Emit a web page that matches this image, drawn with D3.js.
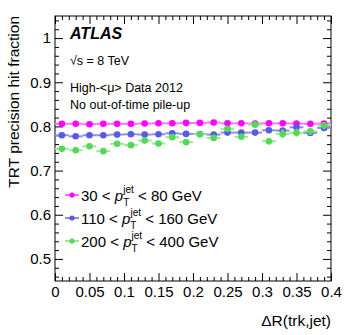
<!DOCTYPE html>
<html lang="en">
<head>
<meta charset="UTF-8">
<title>TRT precision hit fraction</title>
<script src="https://cdn.jsdelivr.net/npm/d3@7"></script>
<style>
    body { margin: 0; background: #fff; }
    svg text { font-family: "Liberation Sans", Arial, Helvetica, sans-serif; fill: #000; }
    .tick text { font-size: 15px; }
    .tick line { stroke: #000; }
</style>
</head>
<body>
<svg width="349" height="335"></svg>
<script>
    // bin centres in dR(trk,jet)
    var dR = [0.01, 0.03, 0.05, 0.07, 0.09, 0.11, 0.13, 0.15, 0.17, 0.19,
              0.21, 0.23, 0.25, 0.27, 0.29, 0.31, 0.33, 0.35, 0.37, 0.39];
    var binHalf = 0.01;

    var lowPt = [0.806, 0.806, 0.805, 0.806, 0.806, 0.806, 0.8065, 0.807, 0.807, 0.808,
                 0.808, 0.8088, 0.807, 0.807, 0.8065, 0.807, 0.807, 0.8065, 0.806, 0.8065];
    var lowPtErr = [0.001, 0.001, 0.001, 0.001, 0.001, 0.001, 0.001, 0.001, 0.001, 0.001,
                    0.001, 0.001, 0.001, 0.001, 0.0012, 0.0012, 0.0012, 0.0012, 0.0015, 0.0015];

    var midPt = [0.780, 0.7776, 0.780, 0.780, 0.7815, 0.7822, 0.7815, 0.7822, 0.7844, 0.7831,
                 0.783, 0.7815, 0.786, 0.786, 0.786, 0.7912, 0.7905, 0.798, 0.7853, 0.7966];
    var midPtErr = [0.001, 0.001, 0.001, 0.001, 0.001, 0.001, 0.001, 0.0012, 0.0012, 0.0015,
                    0.0015, 0.0015, 0.002, 0.002, 0.002, 0.002, 0.0025, 0.004, 0.003, 0.003];

    var highPt = [0.7494, 0.746, 0.755, 0.744, 0.7607, 0.7576, 0.768, 0.7614, 0.7757, 0.7644,
                  0.782, 0.774, 0.7945, 0.7765, 0.804, 0.7665, 0.783, 0.7855, 0.789, 0.802];
    var highPtErr = [0.002, 0.002, 0.002, 0.002, 0.002, 0.0025, 0.0025, 0.003, 0.003, 0.003,
                     0.004, 0.004, 0.005, 0.005, 0.007, 0.008, 0.01, 0.009, 0.008, 0.008];

    var seriesNames = ["30 < ", "110 < ", "200 < "];
    var seriesTails = [" < 80 GeV", " < 160 GeV", " < 400 GeV"];
    var seriesColors = ["#ff00ff", "#5a5ae0", "#55d855"];
    var barColors = ["#ff70ff", "#8c8cf0", "#98ea98"];

    var xTicks = [0, 0.05, 0.1, 0.15, 0.2, 0.25, 0.3, 0.35, 0.4];
    var xTickLabels = ["0", "0.05", "0.1", "0.15", "0.2", "0.25", "0.3", "0.35", "0.4"];
    var yTicks = [0.5, 0.6, 0.7, 0.8, 0.9, 1];
    var yTickLabels = ["0.5", "0.6", "0.7", "0.8", "0.9", "1"];

    var svg = d3.select("svg");
    var padL = 55, padR = 331, padT = 16, padB = 281;

    var x = d3.scaleLinear().domain([0, 0.4]).range([padL, padR]);
    var y = d3.scaleLinear().domain([0.45, 1.05]).range([padB, padT]);

    // minor ticks
    var xMinor = d3.range(0, 0.4001, 0.01).filter(function(v) { return Math.abs(v * 20 - Math.round(v * 20)) > 1e-6; });
    var yMinor = d3.range(0.46, 1.0401, 0.02).filter(function(v) { return Math.abs(v * 10 - Math.round(v * 10)) > 1e-6; });

    function addAxis(axis, tx, ty) {
        var g = svg.append("g").attr("transform", "translate(" + tx + "," + ty + ")").call(axis);
        g.select(".domain").remove();
        return g;
    }

    addAxis(d3.axisBottom(x).tickValues(xTicks).tickSize(-8).tickPadding(5)
        .tickFormat(function(d, i) { return xTickLabels[i]; }), 0, padB);
    addAxis(d3.axisBottom(x).tickValues(xMinor).tickSize(-4).tickFormat(""), 0, padB);
    addAxis(d3.axisTop(x).tickValues(xTicks).tickSize(-8).tickFormat(""), 0, padT);
    addAxis(d3.axisTop(x).tickValues(xMinor).tickSize(-4).tickFormat(""), 0, padT);

    addAxis(d3.axisLeft(y).tickValues(yTicks).tickSize(-8).tickPadding(4)
        .tickFormat(function(d, i) { return yTickLabels[i]; }), padL, 0);
    addAxis(d3.axisLeft(y).tickValues(yMinor).tickSize(-4).tickFormat(""), padL, 0);
    addAxis(d3.axisRight(y).tickValues(yTicks).tickSize(-8).tickFormat(""), padR, 0);
    addAxis(d3.axisRight(y).tickValues(yMinor).tickSize(-4).tickFormat(""), padR, 0);

    svg.append("rect")
        .attr("x", padL).attr("y", padT)
        .attr("width", padR - padL).attr("height", padB - padT)
        .attr("fill", "none").attr("stroke", "#000").attr("stroke-width", 1);

    // axis titles
    svg.append("text")
        .attr("transform", "translate(19," + padT + ") rotate(-90)")
        .attr("text-anchor", "end")
        .style("font-size", "15.5px")
        .text("TRT precision hit fraction");

    svg.append("text")
        .attr("x", padR).attr("y", 326)
        .attr("text-anchor", "end")
        .style("font-size", "15.5px")
        .text("\u0394R(trk,jet)");

    // data
    var allSeries = [lowPt, midPt, highPt];
    var allErrs = [lowPtErr, midPtErr, highPtErr];

    allSeries.forEach(function(vals, s) {
        var g = svg.append("g");
        var pts = vals.map(function(v, i) { return { x: dR[i], y: v, e: allErrs[s][i] }; });

        g.selectAll(".hbar").data(pts).enter().append("line")
            .attr("x1", function(d) { return x(d.x - binHalf); })
            .attr("x2", function(d) { return x(d.x + binHalf); })
            .attr("y1", function(d) { return y(d.y); })
            .attr("y2", function(d) { return y(d.y); })
            .attr("stroke", barColors[s]).attr("stroke-width", 2);

        g.selectAll(".vbar").data(pts).enter().append("line")
            .attr("x1", function(d) { return x(d.x); })
            .attr("x2", function(d) { return x(d.x); })
            .attr("y1", function(d) { return y(d.y - d.e); })
            .attr("y2", function(d) { return y(d.y + d.e); })
            .attr("stroke", barColors[s]).attr("stroke-width", 2);

        g.selectAll("circle").data(pts).enter().append("circle")
            .attr("cx", function(d) { return x(d.x); })
            .attr("cy", function(d) { return y(d.y); })
            .attr("r", 3.3)
            .attr("fill", seriesColors[s]);
    });

    // labels
    svg.append("text").attr("x", 70).attr("y", 39)
        .style("font-size", "16px").style("font-weight", "bold").style("font-style", "italic")
        .text("ATLAS");
    svg.append("text").attr("x", 70).attr("y", 65)
        .style("font-size", "12.5px")
        .text("\u221As = 8 TeV");
    svg.append("text").attr("x", 70).attr("y", 92)
        .style("font-size", "12.5px")
        .text("High-<\u03bc> Data 2012");
    svg.append("text").attr("x", 70).attr("y", 109)
        .style("font-size", "12.5px")
        .text("No out-of-time pile-up");

    // legend
    seriesNames.forEach(function(name, s) {
        var ly = 195 + s * 23;
        var g = svg.append("g");
        g.append("line").attr("x1", 65).attr("x2", 79).attr("y1", ly).attr("y2", ly)
            .attr("stroke", barColors[s]).attr("stroke-width", 2);
        g.append("circle").attr("cx", 72).attr("cy", ly).attr("r", 2.6).attr("fill", seriesColors[s]);
        var t = g.append("text").attr("x", 81).attr("y", ly + 5.5).style("font-size", "15px");
        t.append("tspan").text(name);
        t.append("tspan").style("font-style", "italic").text("p");
        t.append("tspan").style("font-size", "10px").attr("dy", 5).text("T");
        t.append("tspan").style("font-size", "10px").attr("dx", -6).attr("dy", -13).text("jet");
        t.append("tspan").attr("dy", 8).text(seriesTails[s]);
    });
</script>
</body>
</html>
